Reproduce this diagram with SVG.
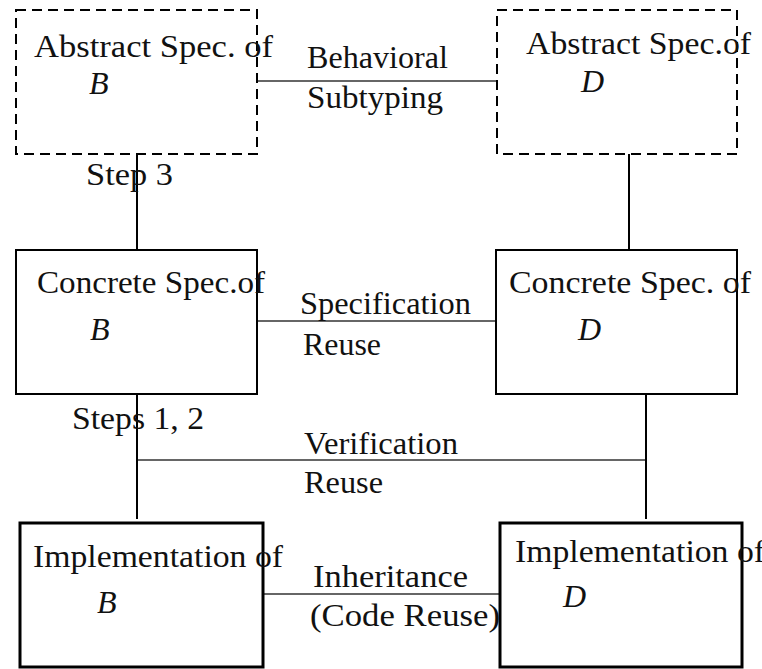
<svg xmlns="http://www.w3.org/2000/svg" width="762" height="669" viewBox="0 0 762 669">
<style>
.t{font-family:"Liberation Serif","Times New Roman",serif;font-size:32px;fill:#111}
.m{font-family:"Liberation Serif","Times New Roman",serif;font-size:32px;font-style:italic;fill:#111}
.abs{fill:none;stroke:#000;stroke-width:2;stroke-dasharray:10,6}
.con{fill:none;stroke:#000;stroke-width:2}
.imp{fill:none;stroke:#000;stroke-width:3}
.thin{stroke:#333;stroke-width:1.3;fill:none}
.v{stroke:#000;stroke-width:2;fill:none}
</style>
<rect width="762" height="669" fill="#fff"/>
<g id="connectors">
<line class="thin" x1="257" y1="81" x2="497" y2="81"/>
<line class="thin" x1="257" y1="321" x2="496" y2="321"/>
<line class="thin" x1="137" y1="460" x2="646" y2="460"/>
<line class="thin" x1="263" y1="594" x2="500" y2="594"/>
<line class="v" x1="137" y1="154" x2="137" y2="250"/>
<line class="v" x1="629" y1="154" x2="629" y2="250"/>
<line class="v" x1="137" y1="394" x2="137" y2="519"/>
<line class="v" x1="646" y1="394" x2="646" y2="519"/>
<text class="t" x="307" y="68" textLength="141" lengthAdjust="spacingAndGlyphs">Behavioral</text>
<text class="t" x="307" y="108" textLength="136" lengthAdjust="spacingAndGlyphs">Subtyping</text>
<text class="t" x="86" y="185" textLength="87" lengthAdjust="spacingAndGlyphs">Step 3</text>
<text class="t" x="300" y="314" textLength="171" lengthAdjust="spacingAndGlyphs">Specification</text>
<text class="t" x="303" y="355" textLength="78" lengthAdjust="spacingAndGlyphs">Reuse</text>
<text class="t" x="72" y="429" textLength="132" lengthAdjust="spacingAndGlyphs">Steps 1, 2</text>
<text class="t" x="304" y="454" textLength="154" lengthAdjust="spacingAndGlyphs">Verification</text>
<text class="t" x="304" y="493" textLength="79" lengthAdjust="spacingAndGlyphs">Reuse</text>
<text class="t" x="313" y="587" textLength="155" lengthAdjust="spacingAndGlyphs">Inheritance</text>
<text class="t" x="310" y="626" textLength="190" lengthAdjust="spacingAndGlyphs">(Code Reuse)</text>
</g>
<g id="absB">
<rect class="abs" x="16" y="10" width="241" height="144"/>
<text class="t" x="34" y="57" textLength="239" lengthAdjust="spacingAndGlyphs">Abstract Spec. of</text>
<text class="m" x="89" y="94">B</text>
</g>
<g id="absD">
<rect class="abs" x="497" y="10" width="240" height="144"/>
<text class="t" x="526" y="54" textLength="225" lengthAdjust="spacingAndGlyphs">Abstract Spec.of</text>
<text class="m" x="581" y="92">D</text>
</g>
<g id="conB">
<rect class="con" x="16" y="250" width="241" height="144"/>
<text class="t" x="37" y="293" textLength="228" lengthAdjust="spacingAndGlyphs">Concrete Spec.of</text>
<text class="m" x="90" y="340">B</text>
</g>
<g id="conD">
<rect class="con" x="496" y="250" width="241" height="144"/>
<text class="t" x="509" y="293" textLength="242" lengthAdjust="spacingAndGlyphs">Concrete Spec. of</text>
<text class="m" x="578" y="340">D</text>
</g>
<g id="impB">
<rect class="imp" x="20" y="523" width="243" height="144"/>
<text class="t" x="33" y="567" textLength="250" lengthAdjust="spacingAndGlyphs">Implementation of</text>
<text class="m" x="97" y="613">B</text>
</g>
<g id="impD">
<rect class="imp" x="500" y="523" width="242" height="144"/>
<text class="t" x="515" y="562" textLength="250" lengthAdjust="spacingAndGlyphs">Implementation of</text>
<text class="m" x="563" y="607">D</text>
</g>
</svg>
